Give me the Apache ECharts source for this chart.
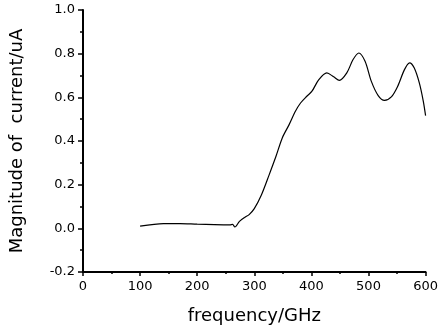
<!DOCTYPE html>
<html>
<head>
<meta charset="utf-8">
<script src="https://cdn.jsdelivr.net/npm/echarts@6/dist/echarts.min.js"></script>
<style>html,body{margin:0;padding:0;background:#fff}#c{width:441px;height:331px}</style>
</head>
<body>
<div id="c"></div>
<script>
const freq = [100, 141, 170, 200, 230, 257, 262, 266, 274, 283, 291, 300, 312, 326, 338, 349, 361, 372, 381, 392, 401, 413, 427, 439, 449, 462, 473, 483, 494, 505, 517, 528, 540, 551, 563, 572, 580, 589, 596, 600];
const current = [0.010, 0.022, 0.022, 0.019, 0.017, 0.016, 0.018, 0.006, 0.032, 0.050, 0.063, 0.090, 0.150, 0.245, 0.330, 0.414, 0.475, 0.536, 0.574, 0.605, 0.628, 0.681, 0.712, 0.694, 0.678, 0.712, 0.773, 0.803, 0.765, 0.673, 0.608, 0.586, 0.602, 0.650, 0.727, 0.758, 0.735, 0.666, 0.582, 0.516];
const xTitle = 'frequency/GHz';
const yTitle = 'Magnitude of  current/uA';

const chart = echarts.init(document.getElementById('c'), null, {renderer: 'canvas'});
const titleFont = 'DejaVu Sans';
const tickFont = 'DejaVu Sans';
chart.setOption({
  animation: false,
  backgroundColor: '#fff',
  grid: {left: 83, right: 13, top: 10, bottom: 59, containLabel: false},
  xAxis: {
    type: 'value', min: 0, max: 600, interval: 100,
    name: xTitle, nameLocation: 'middle', nameGap: 35,
    nameTextStyle: {fontFamily: titleFont, fontSize: 18, color: '#000'},
    axisLine: {show: true, onZero: false, lineStyle: {color: '#000', width: 2}},
    axisTick: {show: true, inside: false, length: 4, lineStyle: {color: '#000', width: 1.5}},
    minorTick: {show: true, splitNumber: 2, length: 2, lineStyle: {color: '#000', width: 1.5}},
    axisLabel: {fontFamily: tickFont, fontWeight: 500, fontSize: 13, color: '#000', margin: 8},
    splitLine: {show: false}
  },
  yAxis: {
    type: 'value', min: -0.2, max: 1.0, interval: 0.2,
    name: yTitle, nameLocation: 'middle', nameGap: 57, nameRotate: 90,
    nameTextStyle: {fontFamily: titleFont, fontSize: 18, color: '#000'},
    axisLine: {show: true, onZero: false, lineStyle: {color: '#000', width: 2}},
    axisTick: {show: true, inside: false, length: 5, lineStyle: {color: '#000', width: 1.5}},
    minorTick: {show: true, splitNumber: 2, length: 3, lineStyle: {color: '#000', width: 1.5}},
    axisLabel: {fontFamily: tickFont, fontWeight: 500, fontSize: 13, color: '#000', margin: 8,
      formatter: v => v.toFixed(1)},
    splitLine: {show: false}
  },
  series: [{
    type: 'line',
    data: freq.map((f, i) => [f, current[i]]),
    smooth: 0.3,
    showSymbol: false,
    lineStyle: {color: '#000', width: 1.2}
  }]
});
</script>
</body>
</html>
